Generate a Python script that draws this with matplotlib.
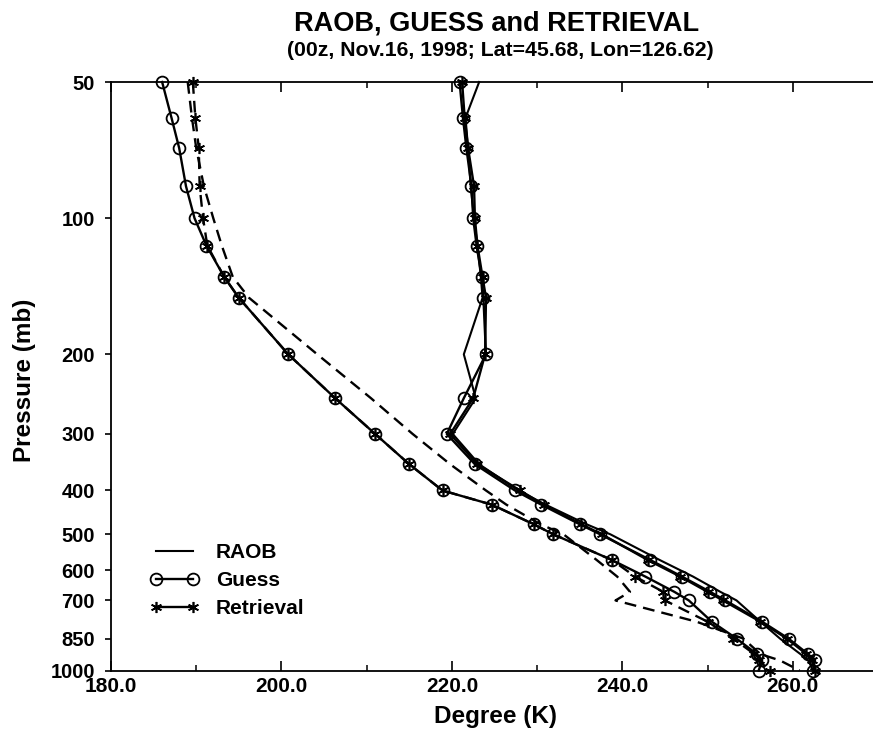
import matplotlib
matplotlib.use("Agg")
import matplotlib.pyplot as plt
from matplotlib.lines import Line2D
from matplotlib.ticker import FixedLocator, MultipleLocator, FormatStrFormatter, NullLocator

plt.rcParams['font.family'] = ['Liberation Sans', 'DejaVu Sans']
plt.rcParams['font.weight'] = 'bold'

# TOVS pressure levels (mb)
pressure = [50, 60, 70, 85, 100, 115, 135, 150, 200, 250, 300, 350, 400,
            430, 475, 500, 570, 620, 670, 700, 780, 850, 920, 950, 1000]

# Profile 1 (solid lines)
raob_1 = [223.2, 221.6, 221.9, 222.2, 222.6, 223.0, 223.4, 223.6, 221.4, 222.8,
          220.1, 223.2, 227.8, 231.0, 235.8, 238.6, 244.4, 248.3, 251.5, 253.4,
          256.2, 258.5, 260.9, 261.8, 262.4]
guess_1 = [220.9, 221.3, 221.7, 222.3, 222.5, 222.9, 223.5, 223.7, 224.0, 221.4,
           219.4, 222.7, 227.4, 230.5, 235.0, 237.4, 243.3, 247.0, 250.3, 252.1,
           256.4, 259.5, 261.8, 262.6, 262.4]
retr_1 = [221.2, 221.5, 221.9, 222.6, 222.7, 223.0, 223.6, 224.0, 223.9, 222.5,
          219.8, 223.0, 228.0, 230.8, 235.2, 237.6, 243.0, 246.8, 250.0, 251.8,
          256.2, 259.3, 261.6, 262.3, 262.6]

# Profile 2 (dashed RAOB)
raob_2 = [189.0, 189.5, 190.0, 190.9, 192.0, 193.0, 194.3, 196.2, 204.2, 210.5,
          215.4, 219.8, 224.0, 226.4, 230.4, 233.1, 237.0, 239.4, 240.9, 239.2,
          248.7, 254.2, 256.2, 258.5, 260.8]
guess_2 = [186.0, 187.1, 188.0, 188.8, 189.8, 191.2, 193.3, 195.0, 200.8, 206.3,
           211.0, 215.0, 218.9, 224.7, 229.6, 231.9, 238.8, 242.7, 246.1, 247.8,
           250.5, 253.4, 255.8, 256.4, 256.0]
retr_2 = [189.6, 189.9, 190.3, 190.4, 190.8, 191.3, 193.3, 195.0, 200.8, 206.3,
          211.0, 215.0, 218.9, 224.7, 229.6, 231.9, 238.8, 241.5, 244.8, 245.0,
          250.0, 253.0, 255.5, 256.0, 257.3]

y_ticks = [50, 100, 200, 300, 400, 500, 600, 700, 850, 1000]
x_major = [180, 200, 220, 240, 260]

fig = plt.figure(figsize=(8.73, 7.33), dpi=100)
ax = fig.add_axes([111 / 873, 1 - 670.5 / 733, (878 - 111) / 873, (670.5 - 82) / 733])

lw = 1.7
circ = dict(marker='o', markersize=8.5, markerfacecolor='none',
            markeredgecolor='black', markeredgewidth=1.3)
star = dict(marker=(6, 2, 0), markersize=8, markeredgecolor='black',
            markeredgewidth=1.2)
dash = (5, 3)

# profile 2
ax.plot(raob_2, pressure, color='black', lw=lw, dashes=dash, clip_on=False)
ax.plot(guess_2, pressure, color='black', lw=lw, clip_on=False, **circ)
ax.plot(retr_2, pressure, color='black', lw=lw, dashes=dash, clip_on=False, **star)

# profile 1
ax.plot(raob_1, pressure, color='black', lw=1.5, clip_on=False)
ax.plot(guess_1, pressure, color='black', lw=lw, clip_on=False, **circ)
ax.plot(retr_1, pressure, color='black', lw=lw, clip_on=False, **star)

ax.set_yscale('log')
ax.set_ylim(1000, 50)
ax.set_xlim(180, 270)

ax.yaxis.set_major_locator(FixedLocator(y_ticks))
ax.yaxis.set_minor_locator(NullLocator())
ax.set_yticklabels([str(v) for v in y_ticks])
ax.xaxis.set_major_locator(FixedLocator(x_major))
ax.xaxis.set_minor_locator(MultipleLocator(10))
ax.xaxis.set_major_formatter(FormatStrFormatter('%.1f'))

ax.spines['right'].set_visible(False)
for s in ['left', 'top', 'bottom']:
    ax.spines[s].set_linewidth(1.3)

ax.tick_params(axis='x', which='major', direction='in', length=7, width=1.2,
               top=True, labelsize=15, pad=5)
ax.tick_params(axis='x', which='minor', direction='in', length=4, width=1.1,
               top=True)
ax.tick_params(axis='y', which='major', direction='out', length=4.5, width=1.2,
               right=False, labelsize=14.5, pad=7)
for lab in ax.get_xticklabels() + ax.get_yticklabels():
    lab.set_fontweight('bold')

handles = [
    Line2D([], [], color='black', lw=1.5),
    Line2D([], [], color='black', lw=lw, **circ),
    Line2D([], [], color='black', lw=lw, **star),
]
ax.legend(handles, ['RAOB', 'Guess', 'Retrieval'], loc='upper left',
          bbox_to_anchor=(0.051, 0.216), frameon=False, numpoints=2,
          prop={'size': 15, 'weight': 'bold'}, handlelength=2.35,
          handletextpad=0.8, labelspacing=0.42, borderpad=0, borderaxespad=0)

fig.text(497 / 873, 1 - 23.5 / 733, 'RAOB, GUESS and RETRIEVAL',
         ha='center', va='center', fontsize=19.5, fontweight='bold')
fig.text(500 / 873, 1 - 50 / 733, '(00z, Nov.16, 1998; Lat=45.68, Lon=126.62)',
         ha='center', va='center', fontsize=15.3, fontweight='bold')
fig.text(495 / 873, 1 - 716 / 733, 'Degree (K)', ha='center', va='center',
         fontsize=17.5, fontweight='bold')
fig.text(25 / 873, 1 - 380 / 733, 'Pressure (mb)', ha='center', va='center',
         rotation=90, fontsize=17.5, fontweight='bold')

fig.savefig('out.png', dpi=100)
